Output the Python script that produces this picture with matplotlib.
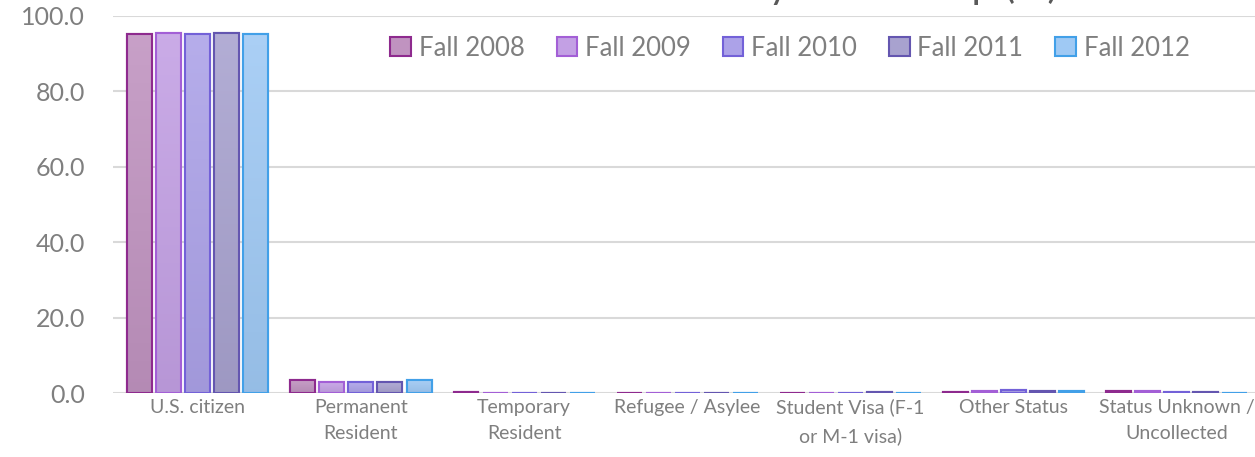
import matplotlib
matplotlib.use('Agg')
from matplotlib import pyplot as plt
from matplotlib.colors import to_rgb, LinearSegmentedColormap
import numpy as np

plt.rcParams['font.family'] = ['Lato', 'DejaVu Sans']

# categories and series values (%)
categories = ['U.S. citizen', 'Permanent\nResident', 'Temporary\nResident', 'Refugee / Asylee',
              'Student Visa (F-1\nor M-1 visa)', 'Other Status', 'Status Unknown /\nUncollected']
years = ['Fall 2008', 'Fall 2009', 'Fall 2010', 'Fall 2011', 'Fall 2012']
fall_2008 = [95.3, 3.5, 0.3, 0.0, 0.1, 0.3, 0.5]
fall_2009 = [95.6, 2.8, 0.1, 0.1, 0.1, 0.6, 0.5]
fall_2010 = [95.3, 2.8, 0.1, 0.1, 0.1, 0.8, 0.4]
fall_2011 = [95.4, 2.9, 0.1, 0.1, 0.2, 0.6, 0.3]
fall_2012 = [95.1, 3.5, 0.1, 0.1, 0.1, 0.5, 0.1]
series = [fall_2008, fall_2009, fall_2010, fall_2011, fall_2012]

fills = ['#c093c0', '#c3a0e4', '#aca2e8', '#a8a2cf', '#9fc9f4']
edges = ['#8e2a8e', '#a35fd6', '#7361d8', '#6456b0', '#42a0e8']


def shade(c, f):
    r = np.array(to_rgb(c))
    if f > 0:
        return tuple(r + (1 - r) * f)
    return tuple(r * (1 + f))


fig = plt.figure(figsize=(12.55, 4.57), dpi=100)
ax = fig.add_axes([0.09, 0.14, 0.91, 0.825])

x = np.arange(len(categories))
w = 0.153
step = 0.178
grad = np.linspace(0, 1, 100).reshape(-1, 1)
for i in range(5):
    bars = ax.bar(x + (i - 2) * step, series[i], width=w, color=fills[i], edgecolor=edges[i],
                  linewidth=1.5, label=years[i], zorder=3)
    cmap = LinearSegmentedColormap.from_list('g%d' % i, [shade(fills[i], -0.06), shade(fills[i], 0.12)])
    for b in bars:
        if b.get_height() <= 0:
            continue
        bx, by = b.get_x(), b.get_y()
        im = ax.imshow(grad, cmap=cmap, aspect='auto', origin='lower',
                       extent=[bx, bx + b.get_width(), by, by + b.get_height()], zorder=3.5)
        im.set_clip_path(b)
    # redraw edges on top
    ax.bar(x + (i - 2) * step, series[i], width=w, color='none', edgecolor=edges[i],
           linewidth=1.5, zorder=4)

ax.set_ylim(0, 100)
ax.set_xlim(-0.52, 6.48)
ax.set_aspect('auto')
ax.set_yticks(np.arange(0, 101, 20))
ax.set_yticklabels(['%.1f' % v for v in np.arange(0, 101, 20)])
ax.set_xticks(x)
ax.set_xticklabels(categories, fontsize=14, color='#7f7f7f', linespacing=1.7)
ax.tick_params(axis='y', labelsize=18, colors='#7f7f7f', length=0, pad=20)
ax.tick_params(axis='x', length=0, pad=4)
ax.grid(axis='y', color='#d9d9d9', linewidth=1.5, zorder=0)
for s in ax.spines.values():
    s.set_visible(False)

leg = ax.legend(loc='center right', bbox_to_anchor=(0.963, 0.915), ncol=5, frameon=False,
                fontsize=18.5, handlelength=0.8, handleheight=0.8, handletextpad=0.3,
                columnspacing=1.25, labelcolor='#7f7f7f')

# title sits mostly above the visible area
fig.text(0.843, 1.005, 'Student Enrollment by Citizenship (%)', fontsize=29,
         color='#595959', ha='right', va='baseline')

fig.savefig('out.png', dpi=100)
